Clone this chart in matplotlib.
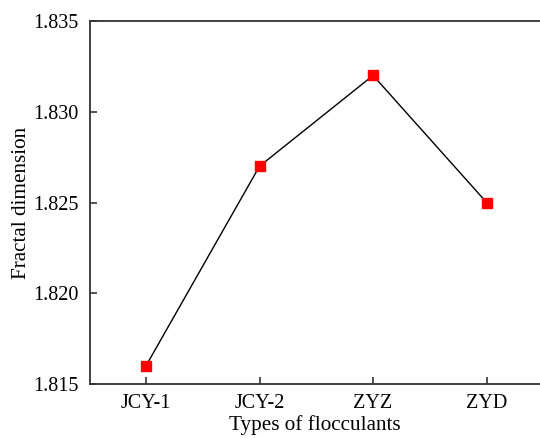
import matplotlib
matplotlib.use("Agg")
import matplotlib.pyplot as plt

categories = ["JCY-1", "JCY-2", "ZYZ", "ZYD"]
values = [1.816, 1.827, 1.832, 1.825]
yticks = [1.815, 1.820, 1.825, 1.830, 1.835]

plt.rcParams['font.family'] = ['Liberation Serif', 'DejaVu Serif']

fig = plt.figure(figsize=(5.4, 4.38), dpi=100)
ax = fig.add_axes([90/540, 1 - 384/438, 450/540, (384 - 21)/438])

x = list(range(len(categories)))
ax.plot(x, values, color='black', linewidth=1.0, marker='s', markersize=7.5,
        markerfacecolor='red', markeredgecolor='red', zorder=3)

ax.set_xlim(-0.493, 3.47)
ax.set_ylim(1.815, 1.835)
ax.set_xticks(x)
ax.set_xticklabels(categories)
ax.set_yticks(yticks)
ax.set_yticklabels([f"{v:.3f}" for v in yticks])
ax.tick_params(direction='in', length=5, width=1.2, labelsize=14.5, colors='#333333',
               labelcolor='black')
ax.tick_params(axis='y', pad=8)
ax.tick_params(axis='x', pad=7)
ax.spines['right'].set_visible(False)
for s in ['left', 'bottom', 'top']:
    ax.spines[s].set_linewidth(1.3)
    ax.spines[s].set_color('#333333')
ax.set_xlabel("Types of flocculants", fontsize=15.2, labelpad=2)
ax.set_ylabel("Fractal dimension", fontsize=15.2, labelpad=1.5)

fig.savefig("out.png", dpi=100)
